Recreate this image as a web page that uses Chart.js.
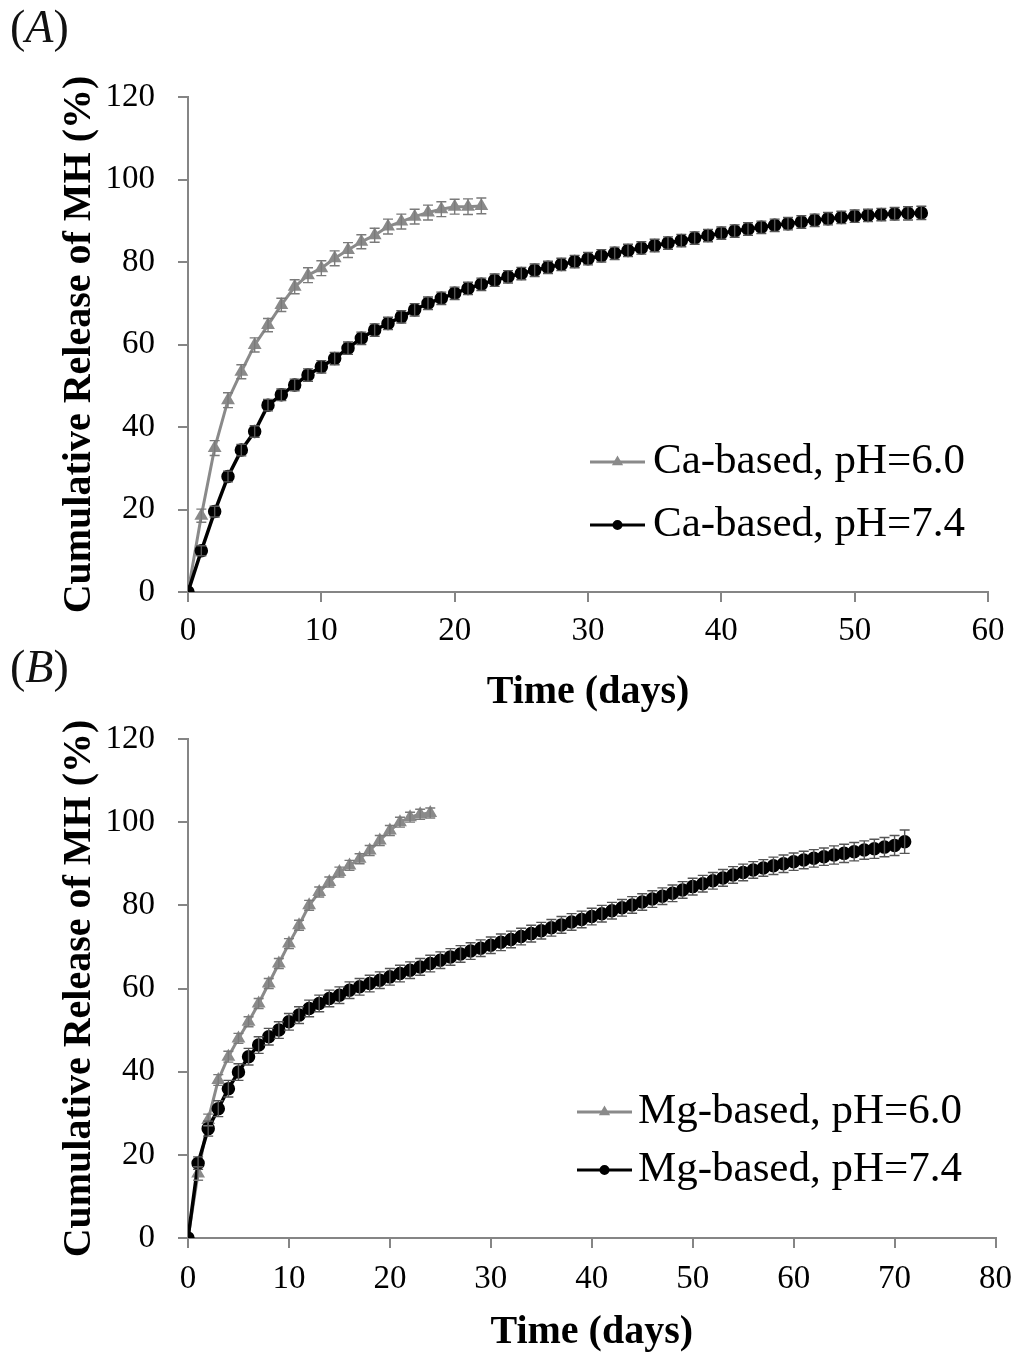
<!DOCTYPE html>
<html>
<head>
<meta charset="utf-8">
<script src="https://cdn.jsdelivr.net/npm/chart.js@4.4.1/dist/chart.umd.min.js"></script>
<style>
html, body { margin: 0; padding: 0; background: #fff; }
body { width: 1024px; height: 1355px; position: relative; overflow: hidden; font-family: "Liberation Serif", serif; }
.panel { position: absolute; left: 0; width: 1024px; height: 715px; }
#wrap-a { top: 0; }
#wrap-b { top: 640px; }
.tag { position: absolute; left: 10px; font-size: 46px; line-height: 1; color: #111; }
</style>
</head>
<body>
<div class="panel" id="wrap-a"><canvas id="chart-a" width="1024" height="715"></canvas></div>
<div class="panel" id="wrap-b"><canvas id="chart-b" width="1024" height="715"></canvas></div>
<div class="tag" style="top:4px">(<i>A</i>)</div>
<div class="tag" style="top:644px">(<i>B</i>)</div>
<script>
// sampling days (one point per day)
const DAYS = [0, 1, 2, 3, 4, 5, 6, 7, 8, 9, 10, 11, 12, 13, 14, 15, 16, 17, 18, 19, 20, 21, 22, 23, 24, 25, 26, 27, 28, 29,
  30, 31, 32, 33, 34, 35, 36, 37, 38, 39, 40, 41, 42, 43, 44, 45, 46, 47, 48, 49, 50, 51, 52, 53, 54, 55, 56, 57, 58, 59,
  60, 61, 62, 63, 64, 65, 66, 67, 68, 69, 70, 71];

// panel A: Ca-based
const caPh60 = [0, 18.5, 34.9, 46.5, 53.4, 59.9, 64.7, 69.6, 74.0, 76.8, 78.5, 80.9, 82.9, 84.9, 86.5, 88.6, 89.8, 91.0, 92.0, 92.8, 93.4, 93.4, 93.6];
const caPh60Err = [0, 1.6, 1.8, 1.8, 1.7, 1.7, 1.6, 1.6, 1.7, 1.8, 1.8, 1.8, 1.8, 1.7, 1.7, 1.8, 1.8, 1.8, 1.8, 1.8, 1.8, 1.9, 1.9];
const caPh74 = [0, 10.0, 19.5, 28.0, 34.4, 38.9, 45.3, 47.8, 50.2, 52.6, 54.6, 56.6, 59.1, 61.5, 63.5, 65.1, 66.7, 68.4, 70.0, 71.2,
  72.4, 73.6, 74.6, 75.6, 76.4, 77.2, 78.0, 78.7, 79.4, 80.1, 80.8, 81.5, 82.1, 82.8, 83.4, 84.0, 84.6, 85.2, 85.8, 86.4,
  87.0, 87.5, 88.0, 88.4, 88.9, 89.3, 89.7, 90.1, 90.5, 90.8, 91.1, 91.3, 91.5, 91.7, 91.8, 91.9];
const caPh74Err = [0, 1.2, 1.3, 1.3, 1.4, 1.4, 1.4, 1.4, 1.4, 1.5, 1.5, 1.5, 1.5, 1.5, 1.5, 1.5, 1.5, 1.5, 1.5, 1.5,
  1.5, 1.5, 1.5, 1.5, 1.5, 1.5, 1.5, 1.5, 1.5, 1.5, 1.5, 1.5, 1.5, 1.5, 1.5, 1.5, 1.5, 1.5, 1.5, 1.5,
  1.5, 1.5, 1.5, 1.5, 1.5, 1.5, 1.5, 1.5, 1.5, 1.5, 1.5, 1.5, 1.5, 1.5, 1.6, 1.6];

// panel B: Mg-based
const mgPh60 = [0, 15.5, 28.4, 38.0, 43.6, 48.0, 52.0, 56.4, 61.2, 66.0, 70.8, 75.2, 80.0, 83.2, 85.6, 88.0, 89.6, 91.2, 93.2, 95.6, 98.0, 100.0, 101.2, 101.9, 102.2];
const mgPh60Err = [0, 1.6, 1.4, 1.3, 1.3, 1.2, 1.2, 1.2, 1.2, 1.2, 1.2, 1.2, 1.2, 1.2, 1.2, 1.2, 1.2, 1.2, 1.2, 1.2, 1.2, 1.2, 1.2, 1.2, 1.2];
const mgPh74 = [0, 18.0, 26.3, 31.1, 35.9, 39.9, 43.6, 46.4, 48.4, 50.0, 52.0, 53.6, 55.2, 56.4, 57.6, 58.4, 59.6, 60.4, 61.2, 62.0,
  62.8, 63.6, 64.4, 65.2, 66.0, 66.8, 67.6, 68.3, 69.0, 69.7, 70.4, 71.1, 71.8, 72.5, 73.2, 73.9, 74.6, 75.3, 76.0, 76.6,
  77.3, 78.0, 78.7, 79.4, 80.1, 80.8, 81.5, 82.2, 82.9, 83.7, 84.5, 85.2, 85.9, 86.6, 87.3, 87.9, 88.5, 89.0, 89.5, 90.0,
  90.5, 90.9, 91.3, 91.7, 92.1, 92.5, 92.9, 93.3, 93.6, 94.0, 94.4, 95.3];
const mgPh74Err = [0, 1.5, 1.8, 1.9, 2.0, 2.0, 2.0, 2.0, 2.0, 2.0, 2.0, 2.0, 2.0, 2.0, 2.0, 2.0, 2.0, 2.0, 2.0, 2.0,
  2.0, 2.0, 2.0, 2.0, 2.0, 2.0, 2.0, 2.0, 2.0, 2.0, 2.0, 2.0, 2.0, 2.0, 2.0, 2.0, 2.0, 2.0, 2.0, 2.0,
  2.0, 2.0, 2.0, 2.0, 2.0, 2.0, 2.0, 2.0, 2.0, 2.0, 2.0, 2.0, 2.0, 2.0, 2.0, 2.0, 2.0, 2.0, 2.1, 2.1,
  2.1, 2.1, 2.1, 2.1, 2.2, 2.2, 2.2, 2.2, 2.3, 2.3, 2.4, 2.8];

const X_TICKS_A = 60;
const X_TICKS_B = 80;
const Y_MAX = 120;

const GRAY = '#8a8a8a';
const AXIS = '#858585';
const FONT = '"Liberation Serif", "Times New Roman", serif';

function points(values) {
  return values.map((v, i) => ({ x: DAYS[i], y: v }));
}

// vertical error bars with caps, placed through the y scale
const errorBars = {
  id: 'errorBars',
  afterDatasetsDraw(chart) {
    const { ctx } = chart;
    const yScale = chart.scales.y;
    ctx.save();
    chart.data.datasets.forEach((ds, i) => {
      const meta = chart.getDatasetMeta(i);
      ctx.strokeStyle = ds.errorColor;
      ctx.lineWidth = 1.4;
      meta.data.forEach((pt, j) => {
        const err = ds.errors[j];
        if (!err) return;
        const v = ds.data[j].y;
        const top = yScale.getPixelForValue(v + err);
        const bot = yScale.getPixelForValue(v - err);
        ctx.beginPath();
        ctx.moveTo(pt.x, top); ctx.lineTo(pt.x, bot);
        ctx.moveTo(pt.x - 5, top); ctx.lineTo(pt.x + 5, top);
        ctx.moveTo(pt.x - 5, bot); ctx.lineTo(pt.x + 5, bot);
        ctx.stroke();
      });
    });
    ctx.restore();
  },
};

// excel style legend sitting inside the plot
const sideLegend = {
  id: 'sideLegend',
  afterDraw(chart, args, opts) {
    const { ctx } = chart;
    ctx.save();
    ctx.font = `43px ${FONT}`;
    ctx.textBaseline = 'middle';
    chart.data.datasets.forEach((ds, i) => {
      const y = opts.top + i * opts.gap;
      ctx.strokeStyle = ds.borderColor;
      ctx.fillStyle = ds.borderColor;
      ctx.lineWidth = 3;
      ctx.beginPath();
      ctx.moveTo(opts.left, y);
      ctx.lineTo(opts.left + opts.lineLen, y);
      ctx.stroke();
      Chart.helpers.drawPoint(ctx, { pointStyle: ds.pointStyle, radius: 3.5, borderWidth: 1, rotation: 0 }, opts.left + opts.lineLen / 2, y);
      ctx.fillStyle = '#000';
      ctx.fillText(ds.label, opts.left + opts.lineLen + opts.textGap, y);
    });
    ctx.restore();
  },
};

function makeChart(id, cfg) {
  const tickFont = { family: FONT, size: 33 };
  const titleFont = { family: FONT, size: 40, weight: 'bold', lineHeight: 1.1 };
  const axisGrid = { display: true, drawOnChartArea: false, drawTicks: true, tickLength: 10, color: AXIS, lineWidth: 2 };
  return new Chart(document.getElementById(id), {
    type: 'line',
    data: {
      datasets: [
        {
          label: cfg.labels[0],
          data: points(cfg.acid),
          errors: cfg.acidErr,
          errorColor: '#7a7a7a',
          borderColor: GRAY,
          backgroundColor: GRAY,
          borderWidth: 3,
          pointStyle: 'triangle',
          pointRadius: 5,
          tension: 0,
          order: 1,
        },
        {
          label: cfg.labels[1],
          data: points(cfg.neutral),
          errors: cfg.neutralErr,
          errorColor: '#555',
          borderColor: '#000',
          backgroundColor: '#000',
          borderWidth: 3.5,
          pointStyle: 'circle',
          pointRadius: 5,
          tension: 0,
          order: 0,
        },
      ],
    },
    options: {
      responsive: false,
      animation: false,
      events: [],
      layout: { padding: { left: 58, right: cfg.padRight, top: cfg.padTop, bottom: 0 } },
      plugins: {
        legend: { display: false },
        tooltip: { enabled: false },
        sideLegend: cfg.legend,
      },
      scales: {
        x: {
          type: 'linear',
          min: 0,
          max: cfg.xMax,
          ticks: { stepSize: 10, font: tickFont, color: '#000', padding: cfg.xPad, maxRotation: 0 },
          grid: axisGrid,
          border: { display: true, color: AXIS, width: 2 },
          title: { display: true, text: 'Time (days)', font: titleFont, color: '#000', padding: 0 },
          afterFit: scale => { scale.height = cfg.xAxisHeight; },
        },
        y: {
          min: 0,
          max: Y_MAX,
          ticks: { stepSize: 20, font: tickFont, color: '#000', padding: 23 },
          grid: axisGrid,
          border: { display: true, color: AXIS, width: 2 },
          title: { display: true, text: 'Cumulative Release of MH (%)', font: titleFont, color: '#000', padding: 0 },
          afterFit: scale => { scale.width = 130; },
        },
      },
    },
    plugins: [errorBars, sideLegend],
  });
}

makeChart('chart-a', {
  labels: ['Ca-based, pH=6.0', 'Ca-based, pH=7.4'],
  acid: caPh60, acidErr: caPh60Err,
  neutral: caPh74, neutralErr: caPh74Err,
  xMax: X_TICKS_A,
  padTop: 97, padRight: 36, xAxisHeight: 123, xPad: 10,
  legend: { left: 590, lineLen: 55, textGap: 8, top: 462, gap: 63 },
});

makeChart('chart-b', {
  labels: ['Mg-based, pH=6.0', 'Mg-based, pH=7.4'],
  acid: mgPh60, acidErr: mgPh60Err,
  neutral: mgPh74, neutralErr: mgPh74Err,
  xMax: X_TICKS_B,
  padTop: 99, padRight: 26, xAxisHeight: 117, xPad: 12,
  legend: { left: 577, lineLen: 55, textGap: 6, top: 472, gap: 58 },
});
</script>
</body>
</html>
